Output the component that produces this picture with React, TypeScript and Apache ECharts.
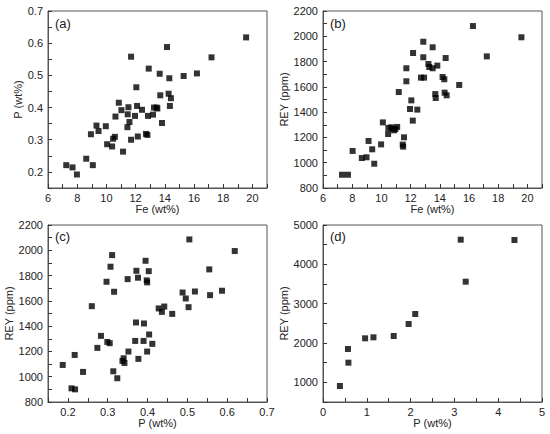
import React, { useEffect, useRef } from "react";
import * as echarts from "echarts";

// Panel (a): Fe vs P
const feA = [7.25, 7.68, 7.98, 8.62, 9.07, 8.94, 9.32, 9.46, 9.96, 10.05, 10.39, 10.46, 10.58, 10.62, 10.85, 11.03, 11.14, 11.44, 11.46, 11.51, 11.58, 11.69, 11.69, 11.96, 12.05, 12.1, 12.15, 12.44, 12.71, 12.81, 12.85, 12.9, 13.19, 13.26, 13.44, 13.49, 13.65, 13.69, 13.81, 14.15, 14.26, 14.31, 14.35, 14.42, 15.29, 16.2, 17.2, 19.57];
const pA = [0.221, 0.214, 0.192, 0.241, 0.221, 0.317, 0.344, 0.327, 0.342, 0.286, 0.279, 0.303, 0.309, 0.372, 0.415, 0.392, 0.263, 0.339, 0.379, 0.401, 0.355, 0.558, 0.3, 0.374, 0.463, 0.405, 0.31, 0.393, 0.318, 0.315, 0.374, 0.521, 0.378, 0.4, 0.4, 0.397, 0.505, 0.438, 0.352, 0.588, 0.443, 0.491, 0.405, 0.429, 0.498, 0.506, 0.556, 0.618];

// Panel (b): Fe vs REY
const feB = [7.3, 7.71, 8.03, 8.66, 8.98, 9.12, 9.37, 9.51, 9.98, 10.1, 10.46, 10.48, 10.67, 10.78, 10.87, 10.96, 11.08, 11.19, 11.46, 11.49, 11.55, 11.71, 11.71, 11.96, 12.05, 12.15, 12.17, 12.46, 12.71, 12.87, 12.87, 12.92, 13.22, 13.28, 13.51, 13.51, 13.69, 13.72, 13.83, 14.19, 14.31, 14.33, 14.4, 14.47, 15.33, 16.27, 17.22, 19.59];
const reyB = [905, 905, 1093, 1037, 1043, 1172, 1106, 992, 1145, 1319, 1227, 1275, 1280, 1269, 1256, 1267, 1283, 1559, 1143, 1127, 1201, 1747, 1644, 1425, 1493, 1333, 1868, 1420, 1673, 1834, 1957, 1673, 1781, 1757, 1913, 1747, 1543, 1512, 1768, 1678, 1660, 1554, 1828, 1533, 1615, 2081, 1841, 1992];

// Panel (c): P vs REY
const pC = [0.187, 0.209, 0.218, 0.217, 0.238, 0.26, 0.274, 0.283, 0.297, 0.299, 0.305, 0.307, 0.311, 0.314, 0.316, 0.324, 0.337, 0.34, 0.342, 0.35, 0.352, 0.369, 0.371, 0.372, 0.376, 0.377, 0.39, 0.391, 0.395, 0.398, 0.399, 0.399, 0.403, 0.404, 0.412, 0.428, 0.436, 0.442, 0.462, 0.488, 0.496, 0.503, 0.505, 0.519, 0.555, 0.557, 0.587, 0.619];
const reyC = [1093, 908, 900, 1172, 1038, 1558, 1228, 1323, 1751, 1275, 1265, 1870, 1962, 1043, 1672, 988, 1125, 1146, 1109, 1772, 1199, 1283, 1429, 1838, 1783, 1141, 1283, 1421, 1917, 1762, 1746, 1199, 1835, 1334, 1260, 1540, 1513, 1555, 1497, 1666, 1619, 1550, 2086, 1674, 1849, 1645, 1680, 1994];

// Panel (d): P vs REY
const pD = [0.386, 0.57, 0.58, 0.962, 1.152, 1.614, 1.955, 2.106, 3.144, 3.258, 4.371];
const reyD = [907, 1847, 1500, 2119, 2144, 2178, 2483, 2737, 4627, 3559, 4619];

// Tick labels / tick positions
const feLabels = [6, 8, 10, 12, 14, 16, 18, 20];
const feTicks = [6, 7, 8, 9, 10, 11, 12, 13, 14, 15, 16, 17, 18, 19, 20, 21];
const pLabels = [0.2, 0.3, 0.4, 0.5, 0.6, 0.7];
const pTicks = [0.15, 0.2, 0.25, 0.3, 0.35, 0.4, 0.45, 0.5, 0.55, 0.6, 0.65, 0.7];
const reyLabels = [800, 1000, 1200, 1400, 1600, 1800, 2000, 2200];
const reyTicks = [800, 900, 1000, 1100, 1200, 1300, 1400, 1500, 1600, 1700, 1800, 1900, 2000, 2100, 2200];
const pDLabels = [0, 1, 2, 3, 4, 5];
const pDTicks = [0, 0.5, 1, 1.5, 2, 2.5, 3, 3.5, 4, 4.5, 5];
const reyDLabels = [1000, 2000, 3000, 4000, 5000];
const reyDTicks = [500, 1000, 1500, 2000, 2500, 3000, 3500, 4000, 4500, 5000];

const panelNames = ["(a)", "(b)", "(c)", "(d)"];

const FONT = '"Liberation Sans", Arial, sans-serif';
const AXIS_COLOR = "#555";
const TEXT_COLOR = "#222";

function zip(xs: number[], ys: number[]) {
  return xs.map((x, i) => [x, ys[i]]);
}

function axis(
  dim: "x" | "y",
  gridIndex: number,
  min: number,
  max: number,
  ticks: number[],
  labels: number[],
  name: string,
  nameGap: number
) {
  return {
    type: "value",
    gridIndex,
    min,
    max,
    name,
    nameLocation: "middle",
    nameGap,
    nameTextStyle: { color: TEXT_COLOR, fontSize: 11, fontFamily: FONT },
    axisLine: { show: true, onZero: false, lineStyle: { color: AXIS_COLOR, width: 1 } },
    axisTick: {
      show: true,
      inside: true,
      length: 4,
      customValues: ticks,
      lineStyle: { color: "#333", width: 1 },
    },
    axisLabel: {
      show: true,
      customValues: labels,
      color: TEXT_COLOR,
      fontSize: 11,
      fontFamily: FONT,
      margin: dim === "x" ? 4 : 5,
      formatter: (v: number) => String(v),
    },
    splitLine: { show: false },
    minorTick: { show: false },
  };
}

export default function App() {
  const ref = useRef<HTMLDivElement>(null);

  useEffect(() => {
    if (!ref.current) return;
    const chart = echarts.init(ref.current, undefined, { renderer: "svg" });

    const grids = [
      { left: 48, top: 11, width: 219, height: 177 },
      { left: 323, top: 11, width: 219, height: 177 },
      { left: 48, top: 225, width: 219, height: 177 },
      { left: 323, top: 225, width: 219, height: 177 },
    ].map((g) => ({
      ...g,
      show: true,
      borderColor: AXIS_COLOR,
      borderWidth: 1,
      backgroundColor: "transparent",
      containLabel: false,
    }));

    const xAxis = [
      axis("x", 0, 6, 21, feTicks, feLabels, "Fe (wt%)", 15),
      axis("x", 1, 6, 21, feTicks, feLabels, "Fe (wt%)", 15),
      axis("x", 2, 0.15, 0.7, pTicks, pLabels, "P (wt%)", 15),
      axis("x", 3, 0, 5, pDTicks, pDLabels, "P (wt%)", 15),
    ];
    const yAxis = [
      axis("y", 0, 0.15, 0.7, pTicks, pLabels, "P (wt%)", 22),
      axis("y", 1, 800, 2200, reyTicks, reyLabels, "REY (ppm)", 32),
      axis("y", 2, 800, 2200, reyTicks, reyLabels, "REY (ppm)", 32),
      axis("y", 3, 500, 5000, reyDTicks, reyDLabels, "REY (ppm)", 31),
    ];

    const datasets = [zip(feA, pA), zip(feB, reyB), zip(pC, reyC), zip(pD, reyD)];
    const series = datasets.map((d, i) => ({
      type: "scatter",
      xAxisIndex: i,
      yAxisIndex: i,
      data: d,
      symbol: "rect",
      symbolSize: 6,
      itemStyle: { color: "#000" },
    }));

    const labelPos = [
      { left: 55, top: 17 },
      { left: 330, top: 17 },
      { left: 55, top: 230 },
      { left: 330, top: 230 },
    ];
    const graphic = panelNames.map((t, i) => ({
      type: "text",
      left: labelPos[i].left,
      top: labelPos[i].top,
      style: { text: t, fill: TEXT_COLOR, font: `13px ${FONT}` },
    }));

    chart.setOption({
      animation: false,
      backgroundColor: "#fff",
      grid: grids,
      xAxis,
      yAxis,
      series,
      graphic,
    } as any);

    return () => chart.dispose();
  }, []);

  return (
    <div
      ref={ref}
      style={{ position: "absolute", left: 0, top: 0, width: 550, height: 434 }}
    />
  );
}
